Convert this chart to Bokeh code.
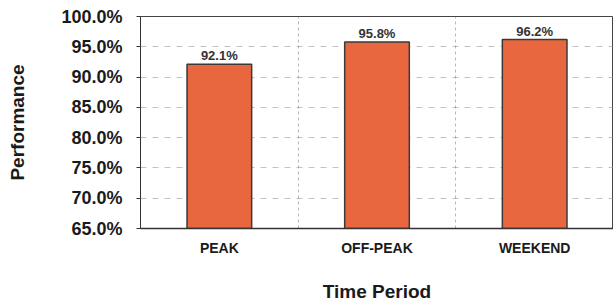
from bokeh.plotting import figure
from bokeh.models import (ColumnDataSource, LabelSet, NumeralTickFormatter, FixedTicker,
                          Grid, Range1d)
from bokeh.core.properties import value
from bokeh.embed import file_html
from bokeh.resources import INLINE

categories = ["PEAK", "OFF-PEAK", "WEEKEND"]
performance = [0.921, 0.958, 0.962]
y_ticks = [0.65, 0.70, 0.75, 0.80, 0.85, 0.90, 0.95, 1.00]

xs = [i + 0.5 for i in range(len(categories))]
labels = [f"{v*100:.1f}%" for v in performance]
src = ColumnDataSource(dict(x=xs, top=performance, label=labels))

FONT = "Liberation Sans"

p = figure(width=613, height=305, output_backend="svg", toolbar_location=None,
           x_range=Range1d(0, 3), y_range=Range1d(0.65, 1.0),
           min_border_left=140, min_border_right=0, min_border_top=16, min_border_bottom=77)

p.vbar(x="x", top="top", bottom=0.65, width=0.41, source=src,
       fill_color="#E8673F", line_color="#3a3a3a", line_width=1.5)

p.add_layout(LabelSet(x="x", y="top", text="label", source=src, text_align="center",
                      text_baseline="bottom", y_offset=1, text_font=value(FONT),
                      text_font_style="bold", text_font_size="13px", text_color="#333333"))

p.yaxis.ticker = FixedTicker(ticks=y_ticks)
p.yaxis.formatter = NumeralTickFormatter(format="0.0%")
p.yaxis.major_label_text_font = FONT
p.yaxis.major_label_text_font_style = "bold"
p.yaxis.major_label_text_font_size = "18px"
p.yaxis.major_label_text_color = "#1a1a1a"
p.yaxis.major_tick_out = 4
p.yaxis.major_tick_in = 0
p.yaxis.minor_tick_line_color = None
p.yaxis.major_label_standoff = 14
p.yaxis.axis_label = "Performance"
p.yaxis.axis_label_text_font = FONT
p.yaxis.axis_label_text_font_style = "bold"
p.yaxis.axis_label_text_font_size = "19px"
p.yaxis.axis_label_text_color = "#1a1a1a"
p.yaxis.axis_label_standoff = 30
p.yaxis.axis_line_color = "#333333"
p.yaxis.major_tick_line_color = "#333333"

p.xaxis.ticker = FixedTicker(ticks=xs)
p.xaxis.major_label_overrides = {x: c for x, c in zip(xs, categories)}
p.xaxis.major_label_text_font = FONT
p.xaxis.major_label_text_font_style = "bold"
p.xaxis.major_label_text_font_size = "14px"
p.xaxis.major_label_text_color = "#1a1a1a"
p.xaxis.major_tick_line_color = None
p.xaxis.minor_tick_line_color = None
p.xaxis.major_label_standoff = 5
p.xaxis.axis_label = "Time Period"
p.xaxis.axis_label_text_font = FONT
p.xaxis.axis_label_text_font_style = "bold"
p.xaxis.axis_label_text_font_size = "19px"
p.xaxis.axis_label_text_color = "#1a1a1a"
p.xaxis.axis_label_standoff = 22
p.xaxis.axis_line_color = "#333333"
p.xaxis.axis_line_width = 1.5

p.xgrid.grid_line_color = None
p.ygrid.ticker = FixedTicker(ticks=y_ticks[1:-1])
p.ygrid.grid_line_color = "#9a9a9a"
p.ygrid.grid_line_dash = "6 6"
p.ygrid.grid_line_alpha = 0.6

p.add_layout(Grid(dimension=0, ticker=FixedTicker(ticks=list(range(1, len(categories)))),
                  grid_line_color="#888888", grid_line_dash="3 3", grid_line_alpha=0.6))

p.outline_line_color = "#444444"
p.background_fill_color = "white"
p.border_fill_color = "white"

open("out.html", "w").write(file_html(p, INLINE))
